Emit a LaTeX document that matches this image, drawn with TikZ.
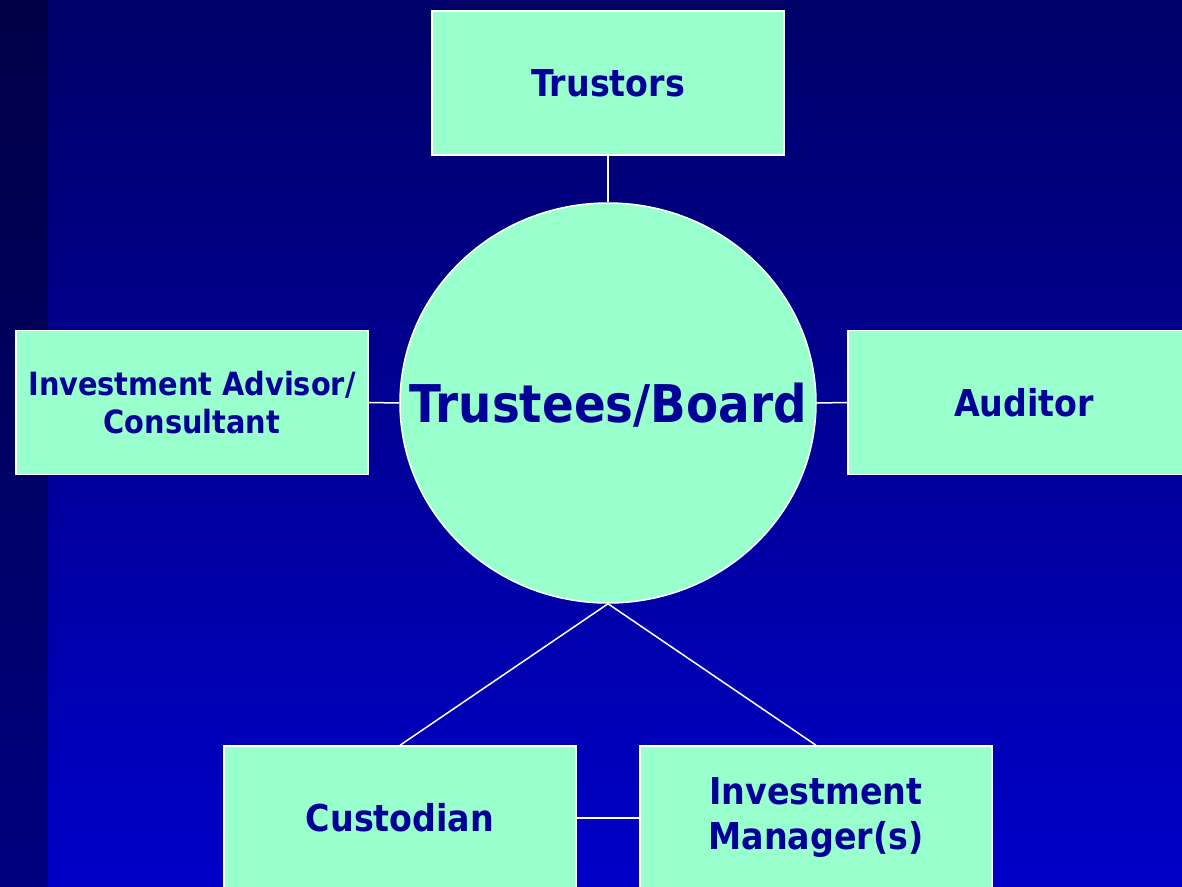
\documentclass[tikz,border=0pt]{standalone}
\usepackage{fontspec}
\setmainfont{DejaVu Sans Condensed}[BoldFont=DejaVu Sans Condensed Bold]
\usetikzlibrary{shapes.geometric}
\definecolor{bgtop}{RGB}{0,0,104}
\definecolor{bgbot}{RGB}{0,0,200}
\definecolor{striptop}{RGB}{0,0,70}
\definecolor{stripbot}{RGB}{0,0,128}
\definecolor{mint}{RGB}{153,255,204}
\definecolor{ink}{RGB}{0,0,153}
\tikzset{
  box/.style={draw=white, line width=1.5pt, fill=mint, minimum width=352pt,
    minimum height=144pt, inner sep=0pt, align=center, text=ink,
    font=\bfseries\fontsize{37}{45}\selectfont},
  hub/.style={ellipse, draw=white, line width=1.5pt, fill=mint,
    minimum width=416pt, minimum height=400pt, inner sep=0pt},
  hubtext/.style={inner sep=0pt, text=ink,
    font=\bfseries\fontsize{52}{60}\selectfont},
  link/.style={draw=white, line width=1.5pt}
}
\begin{document}
\begin{tikzpicture}[x=1pt,y=-1pt]
  \useasboundingbox (0,0) rectangle (1182,886);
  \begin{scope}
    \clip (0,0) rectangle (1182,886);
    \shade[top color=bgtop, bottom color=bgbot] (0,0) rectangle (1182,886);
    \shade[top color=striptop, bottom color=stripbot] (0,0) rectangle (48,886);

    \node[hub] (board) at (608,403) {};
    \node[hubtext] (boardlabel) at (608,405) {Trustees/Board};
    \node[box] (trustors) at (608,83) {\raisebox{-2pt}{Trustors}};
    \node[box, font=\bfseries\fontsize{32}{38}\selectfont] (advisor) at (192,402.5) {Investment Advisor/\\Consultant};
    \node[box] (auditor) at (1024,402.5) {Auditor};
    \node[box] (custodian) at (400,818) {\raisebox{-3pt}{Custodian}};
    \node[box] (manager) at (816,818) {\raisebox{-3pt}{\begin{tabular}{@{}c@{}}Investment\\Manager(s)\end{tabular}}};

    \draw[link] (trustors.south) -- (board.north);
    \draw[link] (advisor.east) -- (board.west);
    \draw[link] (board.east) -- (auditor.west);
    \draw[link] (board.south) -- (custodian.north);
    \draw[link] (board.south) -- (manager.north);
    \draw[link] (custodian.east) -- (manager.west);
  \end{scope}
\end{tikzpicture}
\end{document}
